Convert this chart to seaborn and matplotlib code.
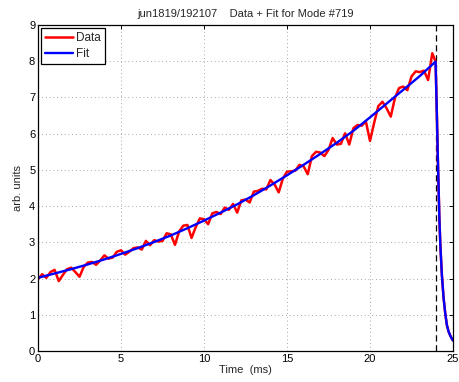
import matplotlib
matplotlib.use("Agg")
import matplotlib.pyplot as plt
import seaborn as sns
import pandas as pd

# ---- data ----
data_time = [0.00, 0.25, 0.50, 0.75, 1.00, 1.25, 1.50, 1.75, 2.00, 2.25, 2.50, 2.75,
             3.00, 3.25, 3.50, 3.75, 4.00, 4.25, 4.50, 4.75, 5.00, 5.25, 5.50, 5.75,
             6.00, 6.25, 6.50, 6.75, 7.00, 7.25, 7.50, 7.75, 8.00, 8.25, 8.50, 8.75,
             9.00, 9.25, 9.50, 9.75, 10.00, 10.25, 10.50, 10.75, 11.00, 11.25, 11.50, 11.75,
             12.00, 12.25, 12.50, 12.75, 13.00, 13.25, 13.50, 13.75, 14.00, 14.25, 14.50, 14.75,
             15.00, 15.25, 15.50, 15.75, 16.00, 16.25, 16.50, 16.75, 17.00, 17.25, 17.50, 17.75,
             18.00, 18.25, 18.50, 18.75, 19.00, 19.25, 19.50, 19.75, 20.00, 20.25, 20.50, 20.75,
             21.00, 21.25, 21.50, 21.75, 22.00, 22.25, 22.50, 22.75, 23.00, 23.25, 23.50, 23.75,
             23.95, 24.03, 24.08, 24.13, 24.18, 24.24, 24.33, 24.43, 24.53, 24.63, 24.73,
             24.83, 24.93, 25.00]
data_vals = [1.98, 2.12, 2.02, 2.18, 2.24, 1.93, 2.10, 2.26, 2.30, 2.18, 2.05, 2.32,
             2.44, 2.46, 2.38, 2.50, 2.64, 2.55, 2.58, 2.74, 2.78, 2.66, 2.74, 2.84,
             2.86, 2.80, 3.04, 2.92, 3.06, 3.02, 3.04, 3.25, 3.22, 2.93, 3.30, 3.46,
             3.48, 3.12, 3.42, 3.66, 3.64, 3.50, 3.80, 3.84, 3.78, 3.96, 3.90, 4.06,
             3.82, 4.16, 4.18, 4.10, 4.40, 4.42, 4.48, 4.46, 4.72, 4.60, 4.38, 4.76,
             4.95, 4.96, 4.98, 5.14, 5.10, 4.88, 5.38, 5.50, 5.48, 5.38, 5.55, 5.88,
             5.70, 5.72, 6.01, 5.70, 6.15, 6.24, 6.22, 6.34, 5.80, 6.30, 6.76, 6.88,
             6.70, 6.47, 6.98, 7.26, 7.30, 7.20, 7.58, 7.72, 7.70, 7.74, 7.48, 8.22,
             7.99, 6.50, 5.45, 4.55, 3.65, 2.90, 2.10, 1.48, 1.05, 0.72, 0.54,
             0.43, 0.34, 0.29]

fit_time = [0, 1, 2, 3, 4, 5, 6, 7, 8, 9, 10, 11, 12, 13, 14, 15, 16, 17, 18, 19, 20,
            21, 22, 23, 23.95, 24.03, 24.08, 24.13, 24.18, 24.24, 24.33, 24.43, 24.53,
            24.63, 24.73, 24.83, 24.93, 25.0]
fit_vals = [2.02, 2.14, 2.26, 2.39, 2.53, 2.68, 2.84, 3.01, 3.19, 3.39, 3.60, 3.82,
            4.05, 4.30, 4.57, 4.85, 5.14, 5.44, 5.75, 6.08, 6.45, 6.83, 7.21, 7.59,
            7.99, 6.50, 5.45, 4.55, 3.65, 2.90, 2.10, 1.48, 1.05,
            0.72, 0.54, 0.43, 0.34, 0.29]

marker_time = 23.95
x_ticks = [0, 5, 10, 15, 20, 25]
y_ticks = [0, 1, 2, 3, 4, 5, 6, 7, 8, 9]
title = "jun1819/192107    Data + Fit for Mode #719"

sns.set_style("white")
plt.rcParams['font.family'] = ['Liberation Sans', 'DejaVu Sans']
plt.rcParams['font.size'] = 8

fig = plt.figure(figsize=(4.59, 3.82), dpi=100)
ax = fig.add_axes([38/459, 1 - 351/382, 415/459, 326/382])

df_data = pd.DataFrame({"t": data_time, "v": data_vals})
df_fit = pd.DataFrame({"t": fit_time, "v": fit_vals})

sns.lineplot(data=df_data, x="t", y="v", ax=ax, color="#ff0000", lw=1.8,
             label="Data", estimator=None, sort=False)
sns.lineplot(data=df_fit, x="t", y="v", ax=ax, color="#0000ff", lw=1.7,
             label="Fit", estimator=None, sort=False)
ax.axvline(marker_time, color="black", lw=0.9, ls=(0, (5, 3)), zorder=1)

ax.set_xlim(0, 25)
ax.set_ylim(0, 9)
ax.set_xticks(x_ticks)
ax.set_yticks(y_ticks)
ax.grid(True, color="#8a8a8a", ls=(0, (1, 3.5)), lw=0.6)
for s in ax.spines.values():
    s.set_color("black")
    s.set_linewidth(0.9)
ax.tick_params(direction="in", length=3, width=0.7, top=True, right=True,
               colors="black", labelsize=8, pad=2)
ax.set_xlabel("Time  (ms)", fontsize=8, labelpad=1)
ax.set_ylabel("arb. units", fontsize=8, labelpad=4)
ax.set_title(title, fontsize=8, pad=6)

leg = ax.legend(loc="upper left", fontsize=8.5, frameon=True, fancybox=False,
                borderpad=0.35, handlelength=2.4, handletextpad=0.25,
                labelspacing=0.35, borderaxespad=0.25)
leg.get_frame().set_edgecolor("black")
leg.get_frame().set_linewidth(0.9)
leg.get_frame().set_alpha(1)

fig.savefig("out.png", dpi=100)
